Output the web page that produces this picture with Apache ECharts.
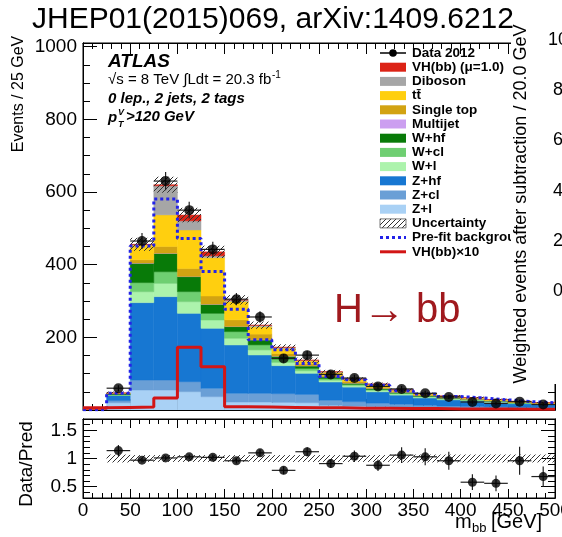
<!DOCTYPE html>
<html><head><meta charset="utf-8">
<script src="https://cdn.jsdelivr.net/npm/echarts@6/dist/echarts.min.js"></script>
<style>html,body{margin:0;padding:0;background:#fff}#c{width:562px;height:537px}</style>
</head><body><div id="c"></div>
<script>
// ---------- data (bins of 25 GeV, 0..500) ----------
const edges = [0,25,50,75,100,125,150,175,200,225,250,275,300,325,350,375,400,425,450,475,500];
const zl    = [0.3,20,55,55,50.4,36.7,22,22,21,20,13,11,9,8,6.5,5.5,5,4.3,3.5,3];
const zcl   = [0.2,6,27.5,27.5,27.6,22.9,24,24,24,23,14,12,10,8,6.5,5.5,5,4.3,3.5,3];
const zhf   = [0.3,14,213,229.5,188,165.2,133,105.4,77,58,50,40,31,25,20,17,15,12.5,10.5,9];
const wl    = [0,1,30,36.5,32.2,22.9,18.3,14,9,7,5,4,3.5,3,2.5,2,1.8,1.5,1.2,1];
const wcl   = [0,1,25,32,27.5,18.3,18.4,13.8,9,6.5,4.5,3.5,3,2.5,2,1.8,1.6,1.3,1.1,0.9];
const whf   = [0,3,53.5,50.5,41.3,24.8,13.8,13.7,8,7,5,3.5,3,2.5,2,1.7,1.5,1.3,1,0.9];
const multijet = [0,0.2,0.5,0.5,0.5,0.5,0.5,0.4,0.3,0.3,0.2,0.2,0.2,0.2,0.1,0.1,0.1,0.1,0.1,0.1];
const singletop = [0,0.5,9,18.5,22,22.4,18,15.6,7,5,4,3.5,3,2,1.8,1.5,1.3,1.1,0.9,0.8];
const ttbar = [0,0.5,41,87,106,105.5,50.5,20,14,8,8,6.5,7.5,3.5,3,2.8,2.5,2.2,1.8,1.5];
const diboson = [0,0.5,1,80,25,5,4,4,3,2,1.5,1.2,1,0.8,0.6,0.5,0.4,0.4,0.3,0.3];
const vhbb  = [0,0.1,0.4,3,16,11,0.6,0.5,0.4,0.3,0.2,0.2,0.2,0.1,0.1,0.1,0,0,0,0];
const uncert = [0,4,18,22,20,17,13,10,8,7,5,4.5,4,3.5,3,2.5,2.5,2,2,1.5];
const prefit = [1,46,451,581,472,381,277,193,166,128,92,83,68,53,44,37,33,28,23,20];
const vhx10 = [6,7,8,33,173,119,9,8,7,6,6,5,5,4,4,3,3,3,2,2];
const dataCounts = [null,60,465,630,550,442,305,256,142,151,98,88,65,58,46,36,22,18,23,15];
const dataErr    = [null,8,22,25,23,21,17,16,12,12,10,9,8,8,7,6,5,4,5,4];
const ratio      = [null,1.14,0.97,1.01,1.03,1.02,0.96,1.10,0.79,1.12,0.91,1.04,0.88,1.06,1.03,0.96,0.58,0.56,0.96,0.68];
const ratioErr   = [null,0.10,0.04,0.04,0.04,0.05,0.05,0.06,0.07,0.08,0.08,0.10,0.10,0.14,0.15,0.16,0.14,0.14,0.25,0.18];
const ratioBand  = [0,0.07,0.06,0.06,0.06,0.06,0.06,0.06,0.06,0.06,0.06,0.06,0.06,0.07,0.07,0.07,0.07,0.07,0.07,0.07];
const xTicks = [0,50,100,150,200,250,300,350,400,450,500];
const yTicksMain = [200,400,600,800,1000];
const yTicksRatio = [0.5,1,1.5];
const rightAxisLabels = ['10','8','6','4','2','0'];

const FONT = "'Liberation Sans', Arial, Helvetica, sans-serif";
const C = {
  vh:'#dc2316', dib:'#a6a6a6', tt:'#ffcf0f', st:'#d2a312', mj:'#cc9ff0',
  whf:'#087a08', wcl:'#6fcf72', wl:'#acf3ac', zhf:'#1777d2', zcl:'#6a9fd6', zl:'#a9d1f5',
  prefit:'#2323e8', vhline:'#d21515'
};

// hatch pattern
function makeHatch(col, step){
  const cv = document.createElement('canvas'); cv.width = step; cv.height = step;
  const g = cv.getContext('2d'); g.strokeStyle = col; g.lineWidth = 1;
  g.beginPath(); g.moveTo(0, step); g.lineTo(step, 0);
  g.moveTo(-1, 1); g.lineTo(1, -1); g.moveTo(step-1, step+1); g.lineTo(step+1, step-1); g.stroke();
  return {image: cv, repeat: 'repeat'};
}
const hatch = makeHatch('#333', 5);

function rectItem(params, api){
  const p0 = api.coord([api.value(0), api.value(3)]);
  const p1 = api.coord([api.value(1), api.value(2)]);
  const col = api.visual('color');
  return {type:'rect', shape:{x:p0[0], y:p0[1], width:p1[0]-p0[0], height:p1[1]-p0[1]},
          style:{fill: col, stroke: col, lineWidth: 0.5}};
}
function hatchItem(params, api){
  const p0 = api.coord([api.value(0), api.value(3)]);
  const p1 = api.coord([api.value(1), api.value(2)]);
  return {type:'rect', shape:{x:p0[0], y:p0[1], width:p1[0]-p0[0], height:p1[1]-p0[1]},
          style:{fill: hatch}};
}
function errItem(params, api){
  const x = api.value(0), y = api.value(1), e = api.value(2), hw = api.value(3);
  const l = api.coord([x-hw, y]), r = api.coord([x+hw, y]);
  const t = api.coord([x, y+e]), b = api.coord([x, y-e]);
  return {type:'group', children:[
    {type:'line', shape:{x1:l[0],y1:l[1],x2:r[0],y2:r[1]}, style:{stroke:'#222', lineWidth:1.2}},
    {type:'line', shape:{x1:t[0],y1:t[1],x2:b[0],y2:b[1]}, style:{stroke:'#222', lineWidth:1.2}}
  ]};
}
function stepPoints(vals){
  const pts = [];
  vals.forEach((v,i)=>{ pts.push([edges[i], v]); pts.push([edges[i+1], v]); });
  return pts;
}

const series = [];
const stackOrder = [
  ['Z+l', zl, C.zl], ['Z+cl', zcl, C.zcl], ['Z+hf', zhf, C.zhf],
  ['W+l', wl, C.wl], ['W+cl', wcl, C.wcl], ['W+hf', whf, C.whf],
  ['Multijet', multijet, C.mj], ['Single top', singletop, C.st], ['tt', ttbar, C.tt],
  ['Diboson', diboson, C.dib], ['VH(bb)', vhbb, C.vh]
];
let base = zl.map(()=>0);
stackOrder.forEach(([name, vals, color])=>{
  const d = vals.map((v,i)=>[edges[i], edges[i+1], base[i], base[i]+v]);
  base = base.map((b,i)=>b+vals[i]);
  series.push({type:'custom', name, xAxisIndex:0, yAxisIndex:0, renderItem:rectItem,
    itemStyle:{color}, data:d, encode:{x:[0,1], y:[2,3]}, z:2, clip:true, silent:true, animation:false});
});
const total = base;
series.push({type:'custom', name:'Uncertainty', xAxisIndex:0, yAxisIndex:0, renderItem:hatchItem,
  data: uncert.map((u,i)=>[edges[i], edges[i+1], total[i]-u, total[i]+u]).filter((d,i)=>uncert[i]>0),
  encode:{x:[0,1], y:[2,3]}, z:3, clip:true, silent:true, animation:false});
series.push({type:'line', name:'Pre-fit background', xAxisIndex:0, yAxisIndex:0, data: stepPoints(prefit),
  symbol:'none', lineStyle:{color:C.prefit, width:3, type:[3,3], cap:'butt'}, z:4, silent:true, animation:false});
series.push({type:'line', name:'VH(bb)x10', xAxisIndex:0, yAxisIndex:0, data: stepPoints(vhx10),
  symbol:'none', lineStyle:{color:C.vhline, width:3}, z:4, silent:true, animation:false});
const dataPts = [], dataErrPts = [], ratioPts = [], ratioErrPts = [];
dataCounts.forEach((v,i)=>{
  if (v === null) return;
  const c = (edges[i]+edges[i+1])/2, hw = (edges[i+1]-edges[i])/2;
  dataPts.push([c, v]); dataErrPts.push([c, v, dataErr[i], hw]);
  ratioPts.push([c, ratio[i]]); ratioErrPts.push([c, ratio[i], ratioErr[i], hw]);
});
series.push({type:'custom', name:'dataErr', xAxisIndex:0, yAxisIndex:0, renderItem:errItem, data:dataErrPts,
  encode:{x:0, y:1}, z:5, silent:true, animation:false});
series.push({type:'scatter', name:'Data 2012', xAxisIndex:0, yAxisIndex:0, data:dataPts, symbol:'circle',
  symbolSize:10, itemStyle:{color:'#000'}, z:6, silent:true, animation:false});
// ratio panel
series.push({type:'custom', name:'ratioBand', xAxisIndex:2, yAxisIndex:4, renderItem:hatchItem,
  data: ratioBand.map((b,i)=>[edges[i], edges[i+1], 1-b, 1+b]).filter((d,i)=>ratioBand[i]>0),
  encode:{x:[0,1], y:[2,3]}, z:3, clip:true, silent:true, animation:false});
series.push({type:'custom', name:'ratioErr', xAxisIndex:2, yAxisIndex:4, renderItem:errItem, data:ratioErrPts,
  encode:{x:0, y:1}, z:5, clip:true, silent:true, animation:false});
series.push({type:'scatter', name:'ratio', xAxisIndex:2, yAxisIndex:4, data:ratioPts, symbol:'circle',
  symbolSize:9, itemStyle:{color:'#000'}, z:6, silent:true, animation:false});

const blk = {color:'#000', width:1};
const plain = v => String(v);
function xAx(grid, pos, showLabel, maj, min){
  return {type:'value', gridIndex:grid, position:pos, min:0, max:500, interval:50,
    axisLine:{show:true, lineStyle:blk, onZero:false},
    axisTick:{show:true, inside:true, length:maj, lineStyle:blk},
    minorTick:{show:true, splitNumber:5, length:min, lineStyle:blk},
    splitLine:{show:false},
    axisLabel:{show:showLabel, color:'#000', fontSize:19, fontFamily:FONT, margin:3,
      customValues: xTicks, formatter: plain}};
}
function yAx(grid, pos, min, max, interval, len, labels, customVals){
  const a = {type:'value', gridIndex:grid, position:pos, min, max,
    axisLine:{show:true, lineStyle:blk, onZero:false},
    axisTick:{show:true, inside:true, length:len, lineStyle:blk},
    splitLine:{show:false},
    axisLabel:{show:!!labels, color:'#000', fontSize:19, fontFamily:FONT, margin:6, formatter: plain}};
  if (interval) a.interval = interval;
  if (customVals){ a.axisTick.customValues = customVals; a.axisLabel.customValues = customVals; }
  return a;
}

const option = {
  animation:false,
  backgroundColor:'#fff',
  textStyle:{fontFamily:FONT},
  grid:[
    {left:83, right:7, top:43, height:367, show:true, borderColor:'#000', borderWidth:1,
     backgroundColor:'transparent', outerBoundsMode:'none', containLabel:false},
    {left:83, right:7, top:419, height:79, show:true, borderColor:'#000', borderWidth:1,
     backgroundColor:'transparent', outerBoundsMode:'none', containLabel:false}
  ],
  xAxis:[ xAx(0,'bottom',false,11,6), xAx(0,'top',false,11,6), xAx(1,'bottom',true,9,5), xAx(1,'top',false,9,5) ],
  yAxis:[
    yAx(0,'left',0,1010,null,14,true,yTicksMain),
    yAx(0,'left',0,1010,50,7,false,null),
    yAx(0,'right',0,1010,null,14,false,yTicksMain),
    yAx(0,'right',0,1010,50,7,false,null),
    yAx(1,'left',0.3,1.7,null,14,true,yTicksRatio),
    yAx(1,'left',0.3,1.7,0.1,7,false,null),
    yAx(1,'right',0.3,1.7,null,14,false,yTicksRatio),
    yAx(1,'right',0.3,1.7,0.1,7,false,null)
  ],
  series
};

// ---------- graphic annotations ----------
const g = [];
function txt(x, y, text, size, opts){
  opts = opts || {};
  const st = {text, fill: opts.color || '#000',
      font: (opts.style||'') + ' ' + (opts.weight||'normal') + ' ' + size + 'px ' + FONT,
      align: opts.align || 'left', verticalAlign: opts.va || 'middle'};
  if (opts.rich) st.rich = opts.rich;
  return {type:'text', x, y, z: opts.z || 60, rotation: opts.rot || 0, style: st};
}
// plot text block
g.push(txt(108, 62, 'ATLAS', 19, {style:'italic', weight:'bold'}));
g.push(txt(108, 80, '\u221As = 8 TeV \u222BLdt = 20.3 fb', 15));
g.push(txt(272, 75, '-1', 10));
g.push(txt(108, 99, '0 lep., 2 jets, 2 tags', 15, {style:'italic', weight:'bold'}));
g.push(txt(108, 118, 'p', 15, {style:'italic', weight:'bold'}));
g.push(txt(118, 113, 'V', 9, {style:'italic', weight:'bold'}));
g.push(txt(118, 125, 'T', 9, {style:'italic', weight:'bold'}));
g.push(txt(126, 117, '>120 GeV', 15, {style:'italic', weight:'bold'}));
// H -> bb
g.push(txt(334, 311, 'H{a|\u2192} bb', 40, {color:'#a0191e',
  rich:{a:{fontSize:42, fontWeight:'bold', fontFamily:FONT, fill:'#a0191e', color:'#a0191e'}}}));
// axis titles
g.push(txt(19, 94, 'Events / 25 GeV', 16, {rot:Math.PI/2, align:'center'}));
g.push(txt(27, 464, 'Data/Pred', 19, {rot:Math.PI/2, align:'center'}));
g.push(txt(455, 522, 'm', 20));
g.push(txt(472, 528, 'bb', 13));
g.push(txt(491, 522, '[GeV]', 20));
// legend
const legendItems = [
  ['Data 2012','data'], ['VH(bb) (\u03BC=1.0)','fill',C.vh], ['Diboson','fill',C.dib],
  ['tt\u0304','fill',C.tt], ['Single top','fill',C.st], ['Multijet','fill',C.mj],
  ['W+hf','fill',C.whf], ['W+cl','fill',C.wcl], ['W+l','fill',C.wl],
  ['Z+hf','fill',C.zhf], ['Z+cl','fill',C.zcl], ['Z+l','fill',C.zl],
  ['Uncertainty','hatch'], ['Pre-fit background','dots'], ['VH(bb)\u00D710','line']
];
legendItems.forEach((it,k)=>{
  const y = 53 + k*14.2;
  const [label, kind, col] = it;
  if (kind==='data'){
    g.push({type:'line', z:60, shape:{x1:380,y1:y,x2:406,y2:y}, style:{stroke:'#000', lineWidth:1.5}});
    g.push({type:'circle', z:61, shape:{cx:393, cy:y, r:3.8}, style:{fill:'#000'}});
  } else if (kind==='fill'){
    g.push({type:'rect', z:60, shape:{x:380, y:y-4.5, width:26, height:9}, style:{fill:col}});
  } else if (kind==='hatch'){
    g.push({type:'rect', z:60, shape:{x:380, y:y-4.5, width:26, height:9}, style:{fill:hatch, stroke:'#555', lineWidth:0.8}});
  } else if (kind==='dots'){
    g.push({type:'line', z:60, shape:{x1:380,y1:y,x2:406,y2:y}, style:{stroke:C.prefit, lineWidth:3, lineDash:[3,3]}});
  } else {
    g.push({type:'line', z:60, shape:{x1:380,y1:y,x2:406,y2:y}, style:{stroke:C.vhline, lineWidth:3}});
  }
  g.push(txt(412, y, label, 13.5, {weight:'bold'}));
});
// overlay from the neighbouring slide picture
g.push({type:'rect', z:100, shape:{x:511, y:24, width:51, height:360}, style:{fill:'#fff'}});
g.push(txt(521, 204, 'Weighted events after subtraction / 20.0 GeV', 18, {rot:Math.PI/2, align:'center', z:101}));
rightAxisLabels.forEach((t,k)=>{
  g.push(txt(t.length>1 ? 548 : 553, 40 + k*50.2, t, 18, {z:101}));
});
// title
g.push(txt(32, 20, 'JHEP01(2015)069, arXiv:1409.6212', 30, {z:110}));
option.graphic = {elements: g};

const chart = echarts.init(document.getElementById('c'));
chart.setOption(option);
</script></body></html>
